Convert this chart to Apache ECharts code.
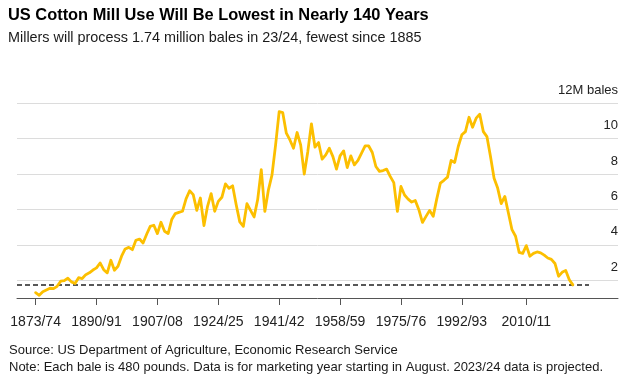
<!DOCTYPE html>
<html>
<head>
<meta charset="utf-8">
<script src="https://cdn.jsdelivr.net/npm/echarts@6/dist/echarts.min.js"></script>
<style>
html,body{margin:0;padding:0;background:#fff;}
#chart{width:636px;height:386px;}
</style>
</head>
<body>
<div id="chart"></div>
<script>
// ---- data ----
const firstYear = 1873; // marketing year 1873/74
const millUse = [
  1.30,1.15,1.35,1.45,1.55,1.53,1.66,
  1.95,1.98,2.12,1.91,1.82,2.15,2.10,2.32,2.42,2.58,
  2.70,2.98,2.60,2.42,3.13,2.57,2.79,3.36,3.77,3.86,
  3.73,4.26,4.33,4.11,4.60,5.05,5.11,4.64,5.28,4.77,
  4.64,5.43,5.77,5.84,5.90,6.60,7.06,6.84,5.95,6.65,
  5.09,6.18,6.90,5.90,6.46,6.69,7.45,7.20,7.34,6.27,
  5.30,5.05,6.33,5.95,5.58,6.56,8.25,5.89,7.11,7.96,
  9.65,11.53,11.47,10.31,9.93,9.46,10.35,9.65,8.00,9.28,
  10.84,9.52,9.78,8.84,9.09,9.46,8.99,8.28,9.03,9.31,
  8.37,9.03,8.52,8.77,9.18,9.59,9.59,9.22,8.43,8.15,
  8.20,8.28,7.87,7.52,5.89,7.30,6.82,6.59,6.42,6.51,
  5.99,5.27,5.61,5.95,5.61,6.60,7.49,7.65,7.83,8.77,
  8.66,9.56,10.22,10.40,11.21,10.65,11.16,11.38,10.40,10.12,
  8.99,7.77,7.21,6.33,6.74,5.80,4.86,4.49,3.58,3.52,
  3.96,3.36,3.52,3.60,3.55,3.42,3.26,3.18,2.95,2.23,
  2.45,2.56,2.03,1.74
];
const xTickYears = [1873,1890,1907,1924,1941,1958,1975,1992,2010];
const yTickValues = [2,4,6,8,10,12];
const yUnitLabel = '12M bales';

const titleText = 'US Cotton Mill Use Will Be Lowest in Nearly 140 Years';
const subtitleText = 'Millers will process 1.74 million bales in 23/24, fewest since 1885';
const sourceText = 'Source: US Department of Agriculture, Economic Research Service';
const noteText = 'Note: Each bale is 480 pounds. Data is for marketing year starting in August. 2023/24 data is projected.';

// ---- build ----
const FONT = "'Liberation Sans', Arial, Helvetica, sans-serif";
const seriesData = millUse.map((v, i) => [firstYear + i, v]);
const lastValue = millUse[millUse.length - 1];
const xMin = 1867.8, xMax = 2035.6, dashEndYear = 2027.5;

function season(y) {
  const n = (y + 1) % 100;
  return y + '/' + (n < 10 ? '0' + n : n);
}

const chart = echarts.init(document.getElementById('chart'), null, {renderer: 'canvas'});
chart.setOption({
  animation: false,
  backgroundColor: '#fff',
  grid: {left: 17, right: 18, top: 103.3, bottom: 88, containLabel: false},
  xAxis: {
    type: 'value',
    min: xMin,
    max: xMax,
    splitLine: {show: false},
    axisLine: {show: true, lineStyle: {color: '#555', width: 1}},
    axisTick: {show: true, length: 7, customValues: xTickYears, lineStyle: {color: '#555', width: 1}},
    axisLabel: {
      customValues: xTickYears,
      formatter: (v) => season(Math.round(v)),
      color: '#222', fontFamily: FONT, fontSize: 14, margin: 17
    }
  },
  yAxis: {
    type: 'value',
    position: 'right',
    min: 1, max: 12, interval: 1,
    axisLine: {show: false},
    axisTick: {show: false},
    splitLine: {show: true, lineStyle: {color: ['rgba(0,0,0,0)', '#dcdcdc'], width: 1}},
    axisLabel: {
      inside: true,
      customValues: yTickValues,
      margin: 0,
      formatter: (v) => (v === 12 ? yUnitLabel : String(v)),
      color: '#222', fontFamily: FONT, fontSize: 13,
      verticalAlign: 'bottom', lineHeight: 16, padding: [0, 0, 5, 0]
    }
  },
  series: [{
    type: 'line',
    data: seriesData,
    showSymbol: false,
    symbol: 'none',
    lineStyle: {color: '#fcbf00', width: 2.8, join: 'round', cap: 'round'},
    z: 3,
    markLine: {
      silent: true,
      symbol: ['none', 'none'],
      label: {show: false},
      lineStyle: {color: '#222', type: [5, 3], width: 1.5},
      data: [[{coord: [xMin, lastValue]}, {coord: [dashEndYear, lastValue]}]],
      z: 2
    }
  }],
  graphic: [
    {type: 'text', left: 8, top: 7, style: {text: titleText, fill: '#000', font: "bold 16.4px " + FONT}},
    {type: 'text', left: 8, top: 31, style: {text: subtitleText, fill: '#1a1a1a', font: "14.4px " + FONT}},
    {type: 'text', left: 9, top: 344, style: {text: sourceText, fill: '#1a1a1a', font: "13px " + FONT}},
    {type: 'text', left: 9, top: 361, style: {text: noteText, fill: '#1a1a1a', font: "13px " + FONT}}
  ]
});
</script>
</body>
</html>
